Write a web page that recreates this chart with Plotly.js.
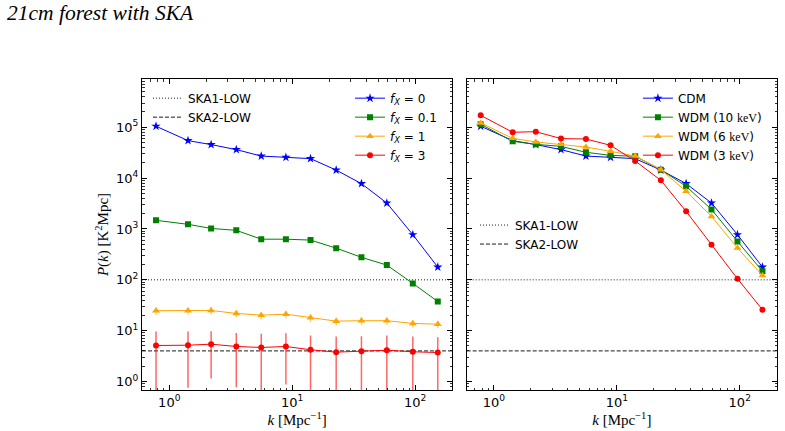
<!DOCTYPE html>
<html><head><meta charset="utf-8">
<script src="https://cdn.plot.ly/plotly-3.0.1.min.js"></script>
<style>html,body{margin:0;padding:0;background:#fff}</style>
</head><body><div id="chart" style="width:785px;height:431px"></div>
<script>
// ---- data ----
const k = [0.78, 1.42, 2.19, 3.51, 5.6, 8.89, 14.1, 22.8, 36.6, 58.9, 95.8, 153];
const pFx0  = [1.05e5, 5.47e4, 4.57e4, 3.64e4, 2.72e4, 2.57e4, 2.42e4, 1.44e4, 7.8e3, 3.24e3, 773, 178];
const pFx01 = [1480, 1235, 1025, 940, 630, 630, 605, 420, 277, 195, 85, 37.5];
const pFx1  = [24.7, 24.7, 25.0, 21.8, 20.2, 21.1, 17.9, 15.4, 15.7, 15.7, 13.9, 13.4];
const errFx1 = [4.2, 4.0, 4.1, 3.6, 3.4, 3.5, 3.1, 2.7, 2.8, 2.7, 2.4, 2.3];
const pFx3  = [5.11, 5.18, 5.42, 4.89, 4.67, 4.89, 4.21, 3.78, 3.95, 4.13, 3.84, 3.72];
const errFx3 = [4.5, 4.43, 4.27, 4.12, 4.02, 4.02, 3.84, 3.9, 3.85, 3.92, 3.85, 3.73];
const pCDM   = [1.05e5, 5.47e4, 4.57e4, 3.64e4, 2.72e4, 2.57e4, 2.42e4, 1.44e4, 7.8e3, 3.24e3, 773, 178];
const pWDM10 = [1.15e5, 5.3e4, 4.62e4, 4.22e4, 3.22e4, 2.81e4, 2.69e4, 1.47e4, 6.9e3, 2.43e3, 570, 148];
const pWDM6  = [1.22e5, 6.07e4, 5.14e4, 4.63e4, 4.09e4, 3.37e4, 2.72e4, 1.47e4, 5.5e3, 1.77e3, 421, 122];
const pWDM3  = [1.72e5, 7.98e4, 8.2e4, 6.0e4, 5.89e4, 4.42e4, 2.17e4, 9.06e3, 2.22e3, 491, 105, 25.8];
const ska1Low = 100;
const ska2Low = 4;
const fxNames = ['<i>f</i><sub><i>X</i></sub> = 0', '<i>f</i><sub><i>X</i></sub> = 0.1', '<i>f</i><sub><i>X</i></sub> = 1', '<i>f</i><sub><i>X</i></sub> = 3'];
const wdmNames = ['CDM', 'WDM (10 <span style="font-family:Liberation Serif">keV</span>)', 'WDM (6 <span style="font-family:Liberation Serif">keV</span>)', 'WDM (3 <span style="font-family:Liberation Serif">keV</span>)'];
const skaNames = ['SKA1-LOW', 'SKA2-LOW'];
const xTickVals = [1, 10, 100];
const xTickText = ['10<sup>0</sup>', '10<sup>1</sup>', '10<sup>2</sup>'];
const yTickVals = [1, 10, 100, 1e3, 1e4, 1e5];
const yTickText = ['10<sup>0</sup>', '10<sup>1</sup>', '10<sup>2</sup>', '10<sup>3</sup>', '10<sup>4</sup>', '10<sup>5</sup>'];

// ---- style ----
const xRange = [-0.222, 2.303];
const yRange = [-0.167, 5.95];
const xEnds = [Math.pow(10, xRange[0]), Math.pow(10, xRange[1])];
function minorVals(lo, hi) {
  const out = [];
  for (let d = lo; d <= hi; d++) for (let m = 2; m <= 9; m++) out.push(m * Math.pow(10, d));
  return out;
}
const axisCommon = {
  type: 'log', showline: true, linecolor: '#000', linewidth: 1, mirror: 'allticks',
  ticks: 'inside', ticklen: 5, tickwidth: 1, tickcolor: '#000',
  showgrid: false, zeroline: false, tickmode: 'array',
  tickfont: {family: 'DejaVu Sans', size: 13, color: '#000'},
};
const serif = 'Liberation Serif';
const col = {blue: '#0000ff', green: '#008000', orange: '#ffa500', red: '#ff0000'};

function series(x, y, name, color, symbol, size, xa, ya, leg, err, errColor) {
  const t = {x: x, y: y, name: name, type: 'scatter', mode: 'lines+markers',
    xaxis: xa, yaxis: ya, legend: leg,
    line: {color: color, width: 1},
    marker: {color: color, symbol: symbol, size: size, line: {width: 0}}};
  if (err) t.error_y = {type: 'data', array: err, visible: true, color: errColor, thickness: 1.5, width: 0};
  return t;
}
function hline(val, name, dash, xa, ya, leg) {
  return {x: xEnds, y: [val, val], name: name, type: 'scatter', mode: 'lines',
    xaxis: xa, yaxis: ya, legend: leg, line: {color: '#000', width: 0.9, dash: dash}};
}

const traces = [
  hline(ska1Low, skaNames[0], '1px,2px', 'x', 'y', 'legend'),
  hline(ska2Low, skaNames[1], '4px,2px', 'x', 'y', 'legend'),
  series(k, pFx0, fxNames[0], col.blue, 'star', 7, 'x', 'y', 'legend2'),
  series(k, pFx01, fxNames[1], col.green, 'square', 6, 'x', 'y', 'legend2'),
  series(k, pFx1, fxNames[2], col.orange, 'triangle-up', 7, 'x', 'y', 'legend2', errFx1, 'rgba(255,165,0,0.55)'),
  series(k, pFx3, fxNames[3], col.red, 'circle', 6, 'x', 'y', 'legend2', errFx3, 'rgba(255,0,0,0.6)'),
  series(k, pCDM, wdmNames[0], col.blue, 'star', 7, 'x2', 'y2', 'legend3'),
  series(k, pWDM10, wdmNames[1], col.green, 'square', 6, 'x2', 'y2', 'legend3'),
  series(k, pWDM6, wdmNames[2], col.orange, 'triangle-up', 7, 'x2', 'y2', 'legend3'),
  series(k, pWDM3, wdmNames[3], col.red, 'circle', 6, 'x2', 'y2', 'legend3'),
  hline(ska1Low, skaNames[0], '1px,2px', 'x2', 'y2', 'legend4'),
  hline(ska2Low, skaNames[1], '4px,2px', 'x2', 'y2', 'legend4'),
];

const legFont = {family: 'DejaVu Sans', size: 12, color: '#000'};
function leg(x, y) {
  return {x: x, y: y, xanchor: 'left', yanchor: 'top', bgcolor: 'rgba(0,0,0,0)', borderwidth: 0,
    font: legFont, tracegroupgap: 0, itemwidth: 30};
}
const xTitle = {text: '<i>k</i> [Mpc<sup>−1</sup>]', font: {family: serif, size: 15, color: '#000'}, standoff: 1};
const minorX = {ticks: 'inside', ticklen: 2.5, tickwidth: 0.8, tickcolor: '#000', tickmode: 'array', tickvals: minorVals(-1, 2), showgrid: false};
const minorY = {ticks: 'inside', ticklen: 2.5, tickwidth: 0.8, tickcolor: '#000', tickmode: 'array', tickvals: minorVals(-1, 5), showgrid: false};
const layout = {
  width: 785, height: 431,
  margin: {l: 142, r: 8, t: 79, b: 41, pad: 0},
  paper_bgcolor: '#fff', plot_bgcolor: '#fff',
  showlegend: true,
  title: {text: '21cm forest with SKA', font: {family: serif, size: 21.5, color: '#000', style: 'italic'},
    xref: 'container', yref: 'container', x: 0.009, xanchor: 'left', y: 0.972, yanchor: 'middle'},
  xaxis: Object.assign({}, axisCommon, {domain: [0, 0.4887], range: xRange, anchor: 'y',
    tickvals: xTickVals, ticktext: xTickText, title: xTitle, minor: minorX}),
  xaxis2: Object.assign({}, axisCommon, {domain: [0.5113, 1], range: xRange, anchor: 'y2',
    tickvals: xTickVals, ticktext: xTickText, title: xTitle, minor: minorX}),
  yaxis: Object.assign({}, axisCommon, {domain: [0, 1], range: yRange, anchor: 'x',
    tickvals: yTickVals, ticktext: yTickText,
    title: {text: '<i>P</i>(<i>k</i>) [K<sup>2</sup>Mpc]', font: {family: serif, size: 15, color: '#000'}, standoff: 3},
    minor: minorY}),
  yaxis2: Object.assign({}, axisCommon, {domain: [0, 1], range: yRange, anchor: 'x2',
    tickvals: yTickVals, ticktext: yTickText, showticklabels: false, minor: minorY}),
  legend: leg(0.0094, 0.985),
  legend2: leg(0.3276, 0.985),
  legend3: leg(0.781, 0.985),
  legend4: leg(0.5244, 0.577),
};
Plotly.newPlot('chart', traces, layout, {displayModeBar: false, staticPlot: true});
</script>
</body></html>
